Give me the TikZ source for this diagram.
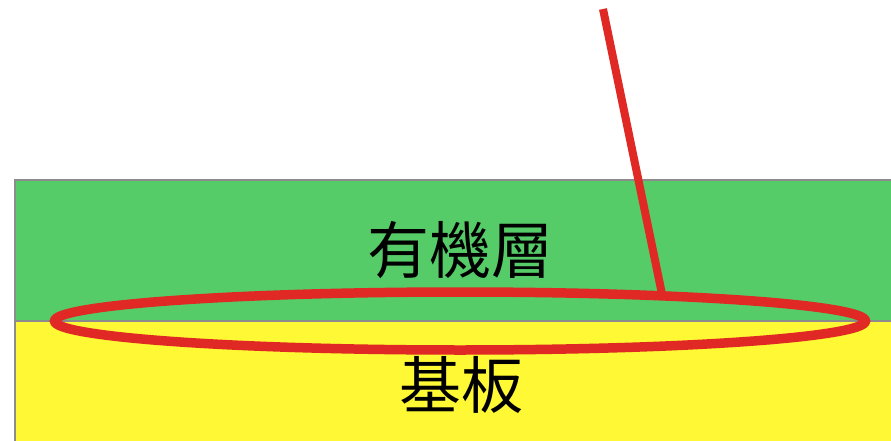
\documentclass[tikz,border=0pt]{standalone}
\usepackage{fontspec}
\newfontfamily\cjk{Noto Sans CJK TC}
\usetikzlibrary{shapes.geometric}
\definecolor{layergreen}{RGB}{85,204,104}
\definecolor{layeryellow}{RGB}{255,248,52}
\definecolor{markred}{RGB}{224,40,36}
\definecolor{edgegray}{RGB}{140,140,140}
\tikzset{
  layer/.style={draw=edgegray, line width=1.3pt},
  lbl/.style={font=\cjk\fontsize{62}{62}\selectfont, inner sep=0pt},
  redring/.style={draw=markred, line width=9.5pt},
}
\begin{document}
\begin{tikzpicture}[x=1pt,y=-1pt]
\useasboundingbox (0,0) rectangle (891,441);
\fill[white] (0,0) rectangle (891,441);
\path[layer, fill=layeryellow] (15,321) rectangle (893,443);
\path[layer, fill=layergreen] (15,180) rectangle (893,321);
\node[lbl] (org) at (460,250) {有機層};
\node[lbl] (sub) at (461,385) {基板};
\node[redring, ellipse, minimum width=811pt, minimum height=58pt, inner sep=0pt] (ring) at (460,321) {};
\coordinate (tip) at (603,9);
\coordinate (touch) at (662,294);
\draw[draw=markred, line width=8pt] (tip) -- (touch);
\end{tikzpicture}
\end{document}
